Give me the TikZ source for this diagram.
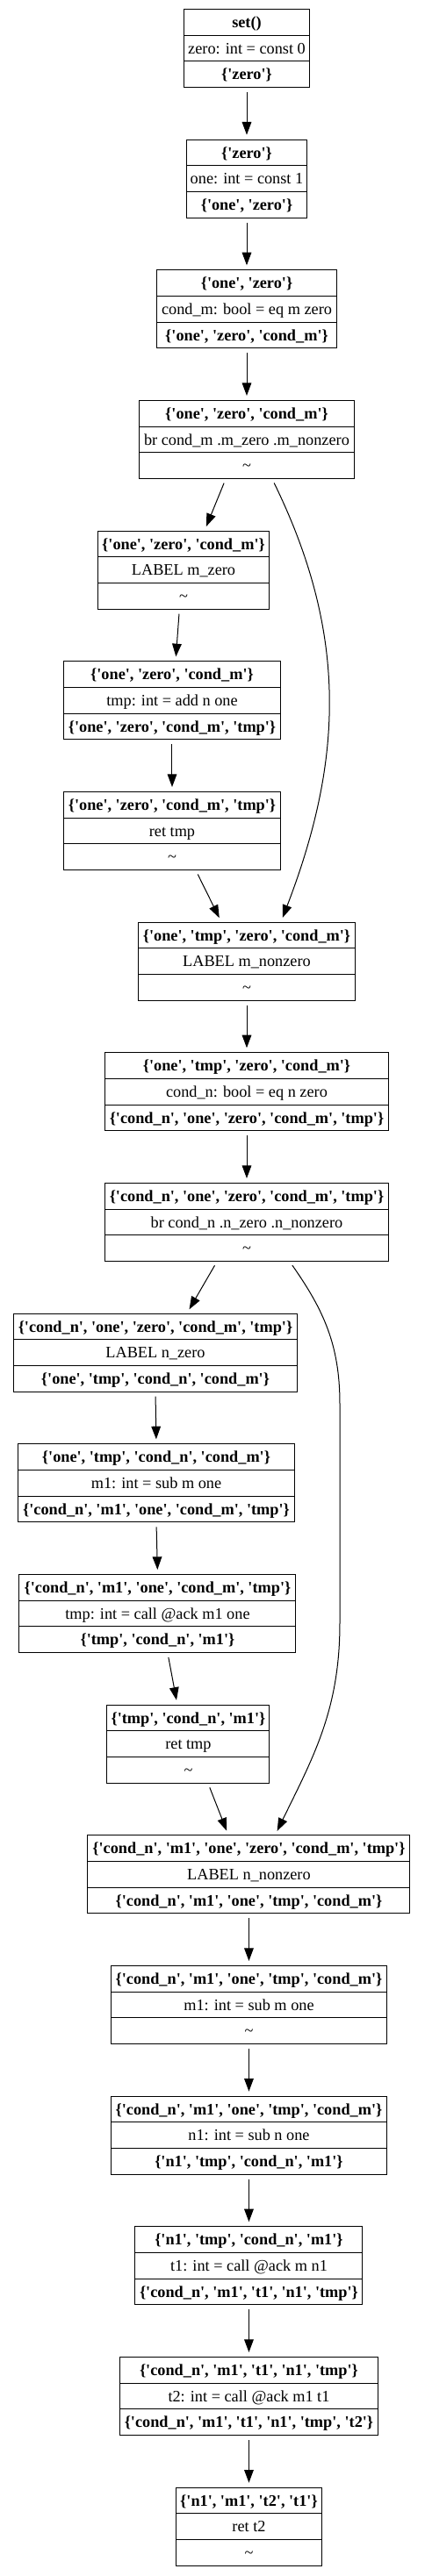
\documentclass[tikz,border=0pt]{standalone}
\usepackage{fontspec}
\setmainfont{Liberation Serif}[Ligatures=TeXOff]
\usetikzlibrary{shapes.multipart,positioning,arrows.meta}
\newcommand{\rs}{\rule[-6.2pt]{0pt}{21.5pt}}
\newcommand{\live}[1]{\rs\textbf{#1}}
\newcommand{\instr}[1]{\rs#1}
\newcommand{\none}{\rs\textasciitilde}
\tikzset{
	block/.style={rectangle split, rectangle split parts=3, draw, line width=0.75pt, inner xsep=3pt, inner ysep=0pt, font=\fontsize{13.7pt}{16pt}\selectfont}, % live-in / instruction / live-out
	flow/.style={-{Triangle[length=11pt,width=8pt]}, line width=0.75pt, shorten <=3.75pt, shorten >=3.75pt},
	node distance=44pt,
}
\begin{document}
\begin{tikzpicture}
	\useasboundingbox (-210.75pt,41.25pt) rectangle (151.5pt,-2160.75pt);
	\node[block, minimum width=106.5pt] (entry) at (0,0) {\live{set()}\nodepart{two}\instr{zero: int = const 0}\nodepart{three}\live{\{'zero'\}}};
	\node[block, minimum width=102pt, below=of entry] (one) {\live{\{'zero'\}}\nodepart{two}\instr{one: int = const 1}\nodepart{three}\live{\{'one', 'zero'\}}};
	\node[block, minimum width=153pt, below=of one] (condm) {\live{\{'one', 'zero'\}}\nodepart{two}\instr{cond\_m: bool = eq m zero}\nodepart{three}\live{\{'one', 'zero', 'cond\_m'\}}};
	\node[block, minimum width=183pt, below=of condm] (brm) {\live{\{'one', 'zero', 'cond\_m'\}}\nodepart{two}\instr{br cond\_m .m\_zero .m\_nonzero}\nodepart{three}\none};
	\node[block, minimum width=145.5pt, below=of brm, xshift=-54pt] (mzero) {\live{\{'one', 'zero', 'cond\_m'\}}\nodepart{two}\instr{LABEL m\_zero}\nodepart{three}\none};
	\node[block, minimum width=184.5pt, below=of mzero, xshift=-9.75pt] (addtmp) {\live{\{'one', 'zero', 'cond\_m'\}}\nodepart{two}\instr{tmp: int = add n one}\nodepart{three}\live{\{'one', 'zero', 'cond\_m', 'tmp'\}}};
	\node[block, minimum width=184.5pt, below=of addtmp] (rettmp) {\live{\{'one', 'zero', 'cond\_m', 'tmp'\}}\nodepart{two}\instr{ret tmp}\nodepart{three}\none};
	\node[block, minimum width=184.5pt, below=of rettmp, xshift=63.75pt] (mnonzero) {\live{\{'one', 'tmp', 'zero', 'cond\_m'\}}\nodepart{two}\instr{LABEL m\_nonzero}\nodepart{three}\none};
	\node[block, minimum width=241.5pt, below=of mnonzero] (condn) {\live{\{'one', 'tmp', 'zero', 'cond\_m'\}}\nodepart{two}\instr{cond\_n: bool = eq n zero}\nodepart{three}\live{\{'cond\_n', 'one', 'zero', 'cond\_m', 'tmp'\}}};
	\node[block, minimum width=241.5pt, below=of condn] (brn) {\live{\{'cond\_n', 'one', 'zero', 'cond\_m', 'tmp'\}}\nodepart{two}\instr{br cond\_n .n\_zero .n\_nonzero}\nodepart{three}\none};
	\node[block, minimum width=241.5pt, below=of brn, xshift=-78pt] (nzero) {\live{\{'cond\_n', 'one', 'zero', 'cond\_m', 'tmp'\}}\nodepart{two}\instr{LABEL n\_zero}\nodepart{three}\live{\{'one', 'tmp', 'cond\_n', 'cond\_m'\}}};
	\node[block, minimum width=235.5pt, below=of nzero, xshift=0.75pt] (subm) {\live{\{'one', 'tmp', 'cond\_n', 'cond\_m'\}}\nodepart{two}\instr{m1: int = sub m one}\nodepart{three}\live{\{'cond\_n', 'm1', 'one', 'cond\_m', 'tmp'\}}};
	\node[block, minimum width=236.25pt, below=of subm, xshift=1.1pt] (calltmp) {\live{\{'cond\_n', 'm1', 'one', 'cond\_m', 'tmp'\}}\nodepart{two}\instr{tmp: int = call @ack m1 one}\nodepart{three}\live{\{'tmp', 'cond\_n', 'm1'\}}};
	\node[block, minimum width=138.75pt, below=of calltmp, xshift=26.25pt] (rettmpb) {\live{\{'tmp', 'cond\_n', 'm1'\}}\nodepart{two}\instr{ret tmp}\nodepart{three}\none};
	\node[block, minimum width=275.25pt, below=of rettmpb, xshift=51.75pt] (nnonzero) {\live{\{'cond\_n', 'm1', 'one', 'zero', 'cond\_m', 'tmp'\}}\nodepart{two}\instr{LABEL n\_nonzero}\nodepart{three}\live{\{'cond\_n', 'm1', 'one', 'tmp', 'cond\_m'\}}};
	\node[block, minimum width=235.5pt, below=of nnonzero] (subm1) {\live{\{'cond\_n', 'm1', 'one', 'tmp', 'cond\_m'\}}\nodepart{two}\instr{m1: int = sub m one}\nodepart{three}\none};
	\node[block, minimum width=235.5pt, below=of subm1] (subn) {\live{\{'cond\_n', 'm1', 'one', 'tmp', 'cond\_m'\}}\nodepart{two}\instr{n1: int = sub n one}\nodepart{three}\live{\{'n1', 'tmp', 'cond\_n', 'm1'\}}};
	\node[block, minimum width=194.25pt, below=of subn] (callt1) {\live{\{'n1', 'tmp', 'cond\_n', 'm1'\}}\nodepart{two}\instr{t1: int = call @ack m n1}\nodepart{three}\live{\{'cond\_n', 'm1', 't1', 'n1', 'tmp'\}}};
	\node[block, minimum width=220.5pt, below=of callt1] (callt2) {\live{\{'cond\_n', 'm1', 't1', 'n1', 'tmp'\}}\nodepart{two}\instr{t2: int = call @ack m1 t1}\nodepart{three}\live{\{'cond\_n', 'm1', 't1', 'n1', 'tmp', 't2'\}}};
	\node[block, minimum width=124.5pt, below=of callt2] (rett2) {\live{\{'n1', 'm1', 't2', 't1'\}}\nodepart{two}\instr{ret t2}\nodepart{three}\none};

	% straight fall-through edges
	\foreach \a/\b in {entry/one, one/condm, condm/brm, addtmp/rettmp, mnonzero/condn, condn/brn, nzero/subm, subm/calltmp, nnonzero/subm1, subm1/subn, subn/callt1, callt1/callt2, callt2/rett2}
		\draw[flow] (\a.south) -- (\b.north);

	% branches and joins
	\draw[flow] ([xshift=-18pt]brm.south) -- ([xshift=18pt]mzero.north);
	\draw[flow] ([xshift=21.75pt]brm.south) to[out=-64,in=69] ([xshift=29.25pt]mnonzero.north);
	\draw[flow] ([xshift=-3.5pt]mzero.south) -- ([xshift=3pt]addtmp.north);
	\draw[flow] ([xshift=20.25pt]rettmp.south) -- ([xshift=-21.75pt]mnonzero.north);
	\draw[flow] ([xshift=-25.5pt]brn.south) -- ([xshift=27pt]nzero.north);
	\draw[flow] ([xshift=36.75pt]brn.south) to[out=-55,in=90] ++(42.75pt,-121.5pt) -- ++(0,-187.5pt) to[out=-90,in=64] ([xshift=22.5pt]nnonzero.north);
	\draw[flow] ([xshift=8.6pt]calltmp.south) -- ([xshift=-9.4pt]rettmpb.north);
	\draw[flow] ([xshift=16.9pt]rettmpb.south) -- ([xshift=-17.6pt]nnonzero.north);
\end{tikzpicture}
\end{document}
